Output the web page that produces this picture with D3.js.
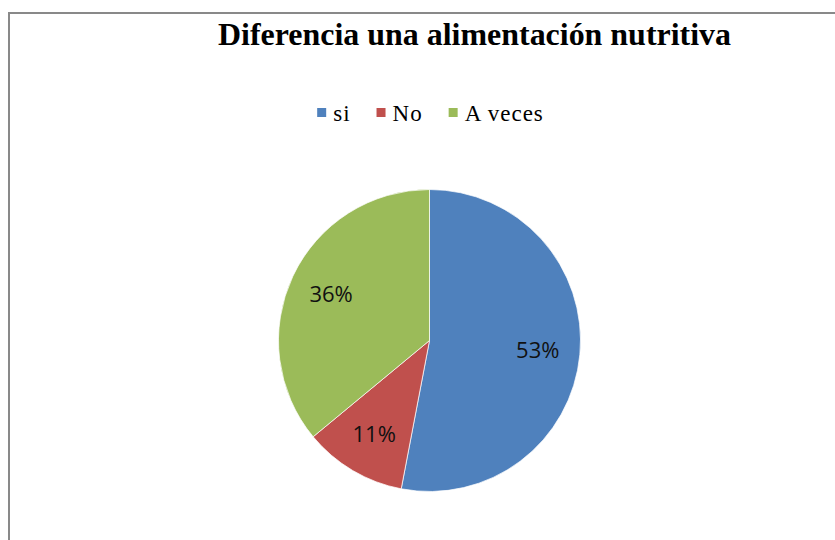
<!DOCTYPE html>
<html>
<head>
<meta charset="utf-8">
<script src="https://cdn.jsdelivr.net/npm/d3@7"></script>
<style>
  html, body { margin: 0; padding: 0; background: #fff; }
  svg { display: block; }
</style>
</head>
<body>
<svg id="chart" width="835" height="540"></svg>
<script>
const title = "Diferencia una alimentación nutritiva";
const categories = ["si", "No", "A veces"];
const values = [53, 11, 36];
const colors = ["#4F81BD", "#C0504D", "#9BBB59"];

const svg = d3.select("#chart");
const W = 835, H = 540;

// chart frame
svg.append("rect")
  .attr("x", 9).attr("y", 13)
  .attr("width", W + 10).attr("height", H + 10)
  .attr("fill", "#fff")
  .attr("stroke", "#898989").attr("stroke-width", 2);

// title
svg.append("text")
  .attr("x", 474.5).attr("y", 45)
  .attr("text-anchor", "middle")
  .attr("font-family", "'Liberation Serif', 'Times New Roman', serif")
  .attr("font-weight", "bold")
  .attr("font-size", 32)
  .attr("textLength", 513)
  .attr("lengthAdjust", "spacingAndGlyphs")
  .attr("fill", "#000")
  .text(title);

// legend
const legend = svg.append("g");
const legendFont = "'Liberation Serif', 'Times New Roman', serif";
const sq = 9, sqGap = 7, itemGap = 26;
let lx = 0;
categories.forEach((c, i) => {
  const g = legend.append("g");
  g.append("rect").attr("x", 0).attr("y", -13).attr("width", sq).attr("height", sq)
    .attr("fill", colors[i]);
  const t = g.append("text").attr("x", sq + sqGap).attr("y", 0)
    .attr("font-family", legendFont).attr("font-size", 23)
    .attr("letter-spacing", 1).attr("fill", "#000")
    .text(c);
  const w = t.node().getComputedTextLength();
  g.attr("transform", `translate(${lx},0)`);
  lx += sq + sqGap + w + itemGap;
});
const legendW = lx - itemGap;
legend.attr("transform", `translate(${430.5 - legendW / 2},121)`);

// pie
const cx = 429.5, cy = 340.5, r = 151;
const pie = d3.pie().sort(null).value(d => d)(values);
const arc = d3.arc().innerRadius(0).outerRadius(r);
const labelArc = d3.arc().innerRadius(r * 0.72).outerRadius(r * 0.72);
const total = d3.sum(values);

const gp = svg.append("g").attr("transform", `translate(${cx},${cy})`);
gp.selectAll("path").data(pie).join("path")
  .attr("d", arc)
  .attr("fill", (d, i) => colors[i])
  .attr("stroke", "#fff").attr("stroke-width", 0.7);

gp.selectAll("text.lbl").data(pie).join("text")
  .attr("class", "lbl")
  .attr("transform", d => `translate(${labelArc.centroid(d)})`)
  .attr("text-anchor", "middle")
  .attr("dy", "0.35em")
  .attr("font-family", "'Open Sans', 'Noto Sans', sans-serif")
  .attr("font-size", 22)
  .attr("fill", "#111")
  .text(d => Math.round(d.value / total * 100) + "%");
</script>
</body>
</html>
